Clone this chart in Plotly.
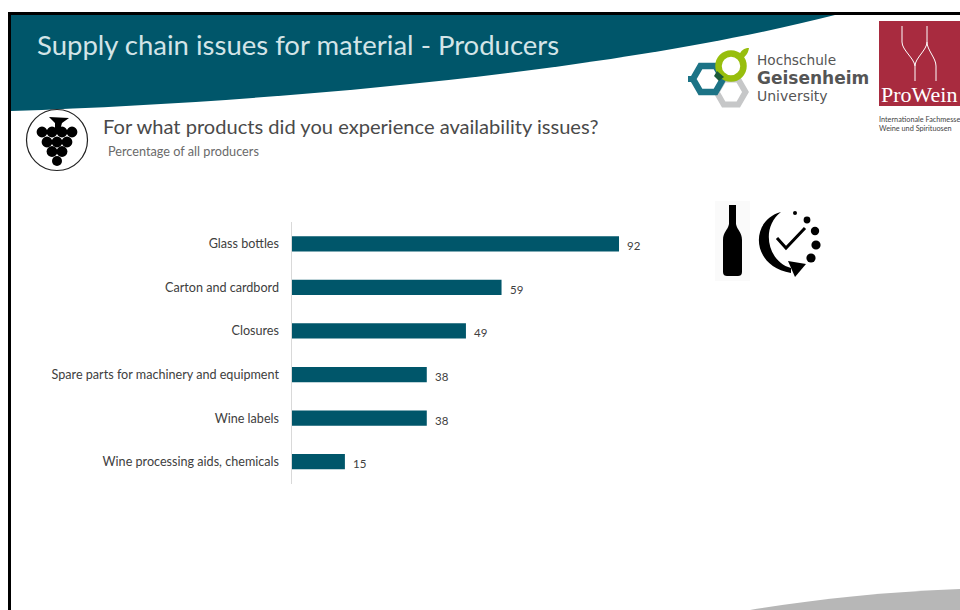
import plotly.graph_objects as go

categories = [
    "Glass bottles",
    "Carton and cardbord",
    "Closures",
    "Spare parts for machinery and equipment",
    "Wine labels",
    "Wine processing aids, chemicals",
]
values = [92, 59, 49, 38, 38, 15]

TEAL = "#00566A"
FONT = "Lato"
W, H = 960, 610


def hexagon(cx, cy, r):
    pts = [(cx - r, cy), (cx - r / 2, cy - r * 0.87), (cx + r / 2, cy - r * 0.87),
           (cx + r, cy), (cx + r / 2, cy + r * 0.87), (cx - r / 2, cy + r * 0.87)]
    return "M" + " L".join(f"{x},{y}" for x, y in pts) + " Z"


def page_shape(**kw):
    return dict(xref="x2", yref="y2", layer="above", **kw)


def path(d, fill="rgba(0,0,0,0)", line=None, width=0):
    return page_shape(type="path", path=d, fillcolor=fill, line=dict(color=line or fill, width=width))


def disc(cx, cy, r, fill="black", line=None, width=0):
    return page_shape(type="circle", x0=cx - r, x1=cx + r, y0=cy - r, y1=cy + r,
                      fillcolor=fill, line=dict(color=line or fill, width=width))


def note(x, y, text, size, color, family=FONT, anchor="left", **kw):
    return dict(xref="x2", yref="y2", x=x, y=y, text=text, showarrow=False, xanchor=anchor,
                yanchor="middle", font=dict(family=family, size=size, color=color), **kw)


shapes = [
    # slide frame and swooping header band
    path("M8,12 L960,12 L960,15 L11,15 L11,610 L8,610 Z", fill="black"),
    path("M11,15 L835,15 C640,65 330,100 11,111 Z", fill=TEAL),
    # grey footer wedge
    path("M750,610 C810,600 880,592 960,589 L960,610 Z", fill="#B7B7B7"),
    # grape badge
    disc(57, 140, 30.5, fill="white", line="#222222", width=1.2),
    path("M49,117 L69,118 L62,123 L60,130 L55,130 L55,123 Z", fill="black"),
]
for gx, gy, gr in [(42, 132, 5.4), (52, 132, 5.4), (62, 132, 5.4), (72, 132, 5.4),
                   (47, 142, 5.4), (57, 142, 5.4), (67, 142, 5.4),
                   (52, 151.5, 5.4), (62, 151.5, 5.4), (57, 161, 5)]:
    shapes.append(disc(gx, gy, gr))

shapes += [
    # Geisenheim emblem
    path(hexagon(731, 92, 14.5), line="#C6C7C8", width=6),
    path(hexagon(708, 79, 15), line="#1C7386", width=6.5),
    path("M688,76 L695,76 L695,82 L688,82 Z", fill="#1C7386"),
    disc(731, 66, 12.5, fill="rgba(0,0,0,0)", line="#97BE0D", width=6.5),
    path("M738,57 C741,50 744,48 749,48 C748,54 745,58 738,60 Z", fill="#97BE0D"),
    path("M717,71 L724,77 L719,81 L714,76 Z", fill="#1B5A3B"),
    # ProWein block
    page_shape(type="rect", x0=879, x1=960, y0=21, y1=106, fillcolor="#A82B3F", line=dict(width=0)),
    path("M902,26 L902,42 C902,50 914,58 915,66 L915,81", line="white", width=1),
    path("M927,26 L927,42 C927,50 915,58 915,66", line="white", width=1),
    path("M927,42 C927,50 936,58 936,66 L936,81", line="white", width=1),
    # bottle and clock pictogram
    page_shape(type="rect", x0=715, x1=750, y0=201, y1=281, fillcolor="#FAFAFA", line=dict(width=0)),
    path("M729,205 L736,205 L736,224 C737,230 742,232 742,240 L742,272 C742,275 740,276 738,276 "
         "L727,276 C725,276 723,275 723,272 L723,240 C723,232 728,230 729,224 Z", fill="black"),
    path("M781,212 C750,220 750,266 791,273 L791,268 C768,262 760,228 781,212 Z", fill="black"),
    path("M788,261 L806,264 L795,277 Z", fill="black"),
    path("M777,238 L786,248 L805,228", line="black", width=3),
]
for dx, dy, dr in [(795, 213, 2), (807, 220, 3.4), (815, 231, 4.2), (816, 245, 4.6), (811, 258, 4.6)]:
    shapes.append(disc(dx, dy, dr))

annotations = [
    note(35, 44.5, "Supply chain issues for material - Producers", 27.5, "#D3E4E7"),
    note(100.5, 125.5, "For what products did you experience availability issues?", 20.1, "#4A4A4A"),
    note(106, 151, "Percentage of all producers", 12.7, "#6A6A6A"),
    note(754.5, 60, "Hochschule", 13.7, "#555555", family="DejaVu Sans"),
    note(754.5, 78, "<b>Geisenheim</b>", 17, "#555555", family="DejaVu Sans"),
    note(754.5, 96, "University", 14, "#555555", family="DejaVu Sans"),
    note(879, 94, "ProWein", 22, "white", family="Liberation Serif"),
    note(877, 119, "Internationale Fachmesse", 7.3, "#444444"),
    note(877, 128, "Weine und Spirituosen", 7.3, "#444444"),
]

# value labels sit just past each bar end
for cat, val in zip(categories, values):
    annotations.append(dict(xref="x", yref="y", x=val, y=cat, text=str(val), showarrow=False,
                            xanchor="left", yanchor="middle", xshift=6, yshift=-2,
                            font=dict(family=FONT, size=11.5, color="#404040")))

fig = go.Figure(go.Bar(x=values, y=categories, orientation="h", marker=dict(color=TEAL, line=dict(width=0)),
                       width=0.35, hoverinfo="skip"))

# invisible full-page axes carry the slide furniture in page units
fig.add_trace(go.Scatter(x=[0], y=[0], xaxis="x2", yaxis="y2", mode="markers",
                         marker=dict(opacity=0), hoverinfo="skip", showlegend=False))

fig.update_layout(
    width=W, height=H, autosize=False, showlegend=False,
    margin=dict(l=0, r=0, t=0, b=0),
    paper_bgcolor="white", plot_bgcolor="rgba(0,0,0,0)",
    xaxis=dict(domain=[291.5 / W, 647.5 / W], range=[0, 100], visible=False),
    yaxis=dict(domain=[1 - 483.5 / H, 1 - 222 / H], autorange="reversed", showline=True,
               linecolor="#D9D9D9", linewidth=1, ticks="outside", ticklen=9, tickcolor="rgba(0,0,0,0)",
               showgrid=False, zeroline=False,
               tickfont=dict(family=FONT, size=12.6, color="#404040")),
    xaxis2=dict(domain=[0, 1], range=[0, W], visible=False, anchor="y2"),
    yaxis2=dict(domain=[0, 1], range=[H, 0], visible=False, anchor="x2"),
    shapes=shapes,
    annotations=annotations,
)

fig.write_html("out.html", config=dict(displayModeBar=False))
